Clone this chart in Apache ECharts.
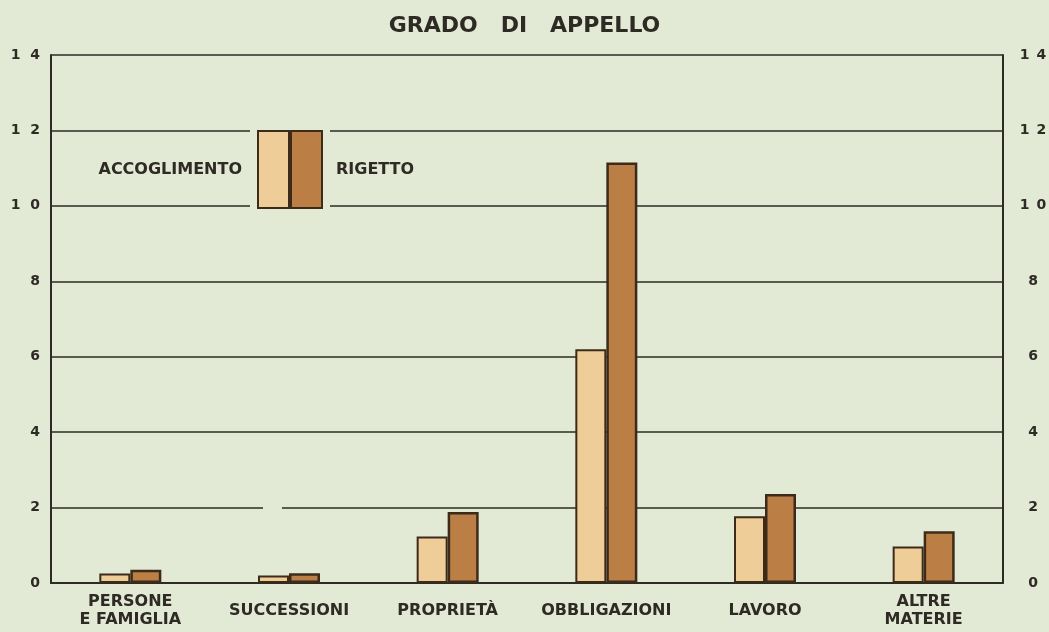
<!DOCTYPE html>
<html>
<head>
<meta charset="utf-8">
<script src="https://cdn.jsdelivr.net/npm/echarts@6/dist/echarts.min.js"></script>
<style>
  html, body { margin: 0; padding: 0; background: #e2e9d4; }
  #chart { width: 1049px; height: 632px; }
</style>
</head>
<body>
<div id="chart"></div>
<script>
// Cause per materia, distinte per esito dell'appello
const categories = ['PERSONE\nE FAMIGLIA', 'SUCCESSIONI', 'PROPRIETÀ', 'OBBLIGAZIONI', 'LAVORO', 'ALTRE\nMATERIE'];
const accoglimento = [0.25, 0.2, 1.23, 6.2, 1.77, 0.97];
const rigetto = [0.35, 0.26, 1.88, 11.15, 2.36, 1.37];
const yTicks = [0, 2, 4, 6, 8, 10, 12, 14];

const ink = '#2e2a24';
const bg = '#e2e9d4';
const lightFill = '#efcd98';
const darkFill = '#bb7e45';
const barBorder = '#3d2b1a';

// Digits are printed spaced apart ("1  4")
const spacedWide = v => String(v).split('').join('  ');
const spacedNarrow = v => String(v).split('').join('\u2002');

const chart = echarts.init(document.getElementById('chart'));

const yAxisBase = {
  type: 'value',
  min: yTicks[0],
  max: yTicks[yTicks.length - 1],
  interval: 2,
  axisLine: { show: true, lineStyle: { color: ink, width: 2 } },
  axisTick: { show: false },
  axisLabel: {
    color: ink,
    fontFamily: 'DejaVu Sans',
    fontWeight: 'bold',
    fontSize: 14
  }
};

const legendText = {
  color: ink, fontFamily: 'DejaVu Sans', fontWeight: 'bold', fontSize: 16
};

chart.setOption({
  backgroundColor: bg,
  animation: false,
  title: {
    text: 'GRADO   DI   APPELLO',
    left: 'center',
    top: 10,
    textStyle: {
      color: ink,
      fontFamily: 'DejaVu Sans',
      fontWeight: 'bold',
      fontSize: 22
    }
  },
  grid: { left: 51, right: 46, top: 55, bottom: 49, outerBoundsMode: 'none', containLabel: false },
  legend: [
    {
      data: [{ name: 'ACCOGLIMENTO', icon: 'rect' }],
      right: 759,
      top: 130,
      padding: 0,
      align: 'right',
      itemWidth: 31,
      itemHeight: 77,
      z: 10,
      selectedMode: false,
      textStyle: Object.assign({ padding: [2, 11, 0, 0] }, legendText)
    },
    {
      data: [{ name: 'RIGETTO', icon: 'rect' }],
      left: 290,
      top: 130,
      padding: 0,
      align: 'left',
      itemWidth: 31,
      itemHeight: 77,
      z: 10,
      selectedMode: false,
      textStyle: Object.assign({ padding: [2, 0, 0, 9] }, legendText)
    }
  ],
  xAxis: {
    type: 'category',
    data: categories,
    axisLine: { show: true, lineStyle: { color: ink, width: 2 } },
    axisTick: { show: false },
    axisLabel: {
      color: ink,
      fontFamily: 'DejaVu Sans',
      fontWeight: 'bold',
      fontSize: 16,
      lineHeight: 18,
      verticalAlign: 'middle',
      margin: 28,
      interval: 0
    }
  },
  yAxis: [
    Object.assign({}, yAxisBase, {
      position: 'left',
      axisLabel: Object.assign({}, yAxisBase.axisLabel, { margin: 11, formatter: spacedWide }),
      splitLine: { show: true, lineStyle: { color: ink, width: 1.5 } }
    }),
    Object.assign({}, yAxisBase, {
      position: 'right',
      axisLabel: Object.assign({}, yAxisBase.axisLabel, { margin: 30, align: 'center', formatter: spacedNarrow }),
      splitLine: { show: false }
    })
  ],
  // Gaps in the grid lines around the legend key
  graphic: [
    { type: 'rect', z: 3, shape: { x: 250, y: 122, width: 80, height: 92 }, style: { fill: bg } },
    { type: 'rect', z: 3, shape: { x: 263, y: 503, width: 19, height: 10 }, style: { fill: bg } }
  ],
  series: [
    {
      name: 'ACCOGLIMENTO',
      type: 'bar',
      data: accoglimento,
      barWidth: 31,
      barGap: '0%',
      itemStyle: { color: lightFill, borderColor: barBorder, borderWidth: 2 }
    },
    {
      name: 'RIGETTO',
      type: 'bar',
      data: rigetto,
      barWidth: 31,
      barGap: '0%',
      itemStyle: { color: darkFill, borderColor: barBorder, borderWidth: 2.5 }
    }
  ]
});
</script>
</body>
</html>
